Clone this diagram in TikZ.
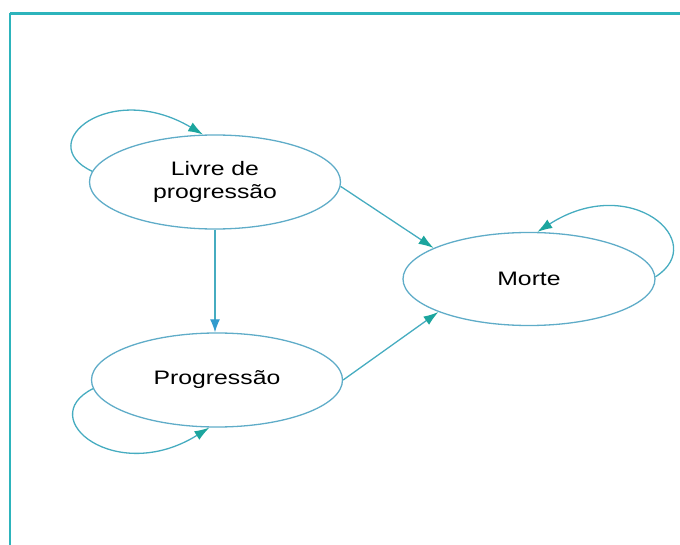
\documentclass[tikz,border=0pt]{standalone}
\usepackage{fontspec}
\usepackage{graphicx}
\setmainfont{Liberation Sans}
\usetikzlibrary{shapes.geometric,arrows.meta}

\definecolor{framecol}{RGB}{45,180,188}
\definecolor{statecol}{RGB}{95,172,200}
\definecolor{linkcol}{RGB}{70,172,192}
\definecolor{headcol}{RGB}{28,165,158}
\definecolor{headblue}{RGB}{50,155,205}

\tikzset{
  state/.style={ellipse, draw=statecol, line width=1.3pt, inner sep=0pt,
    minimum width=251pt, minimum height=94pt,
    font=\fontsize{19.5}{23}\selectfont, text=black},
  link/.style={draw=linkcol, line width=1.3pt,
    -{Latex[length=15pt,width=10pt,fill=headcol,color=headcol]}},
  linkdown/.style={link, -{Latex[length=13pt,width=10pt,fill=headblue,color=headblue]}},
}
\newcommand{\wide}[1]{\scalebox{1.27}[1]{#1}}

\begin{document}
\begin{tikzpicture}[x=1pt,y=-1pt]
  \useasboundingbox (0,0) rectangle (680,545);
  % panel edges
  \draw[framecol, line width=2.5pt] (9.5,13.5) -- (680,13.5);
  \draw[framecol, line width=2pt] (9.5,13.5) -- (9.5,545);

  % states
  \node[state] (L) at (215,182) {\wide{\begin{tabular}{@{}c@{}}Livre de\\progressão\end{tabular}}};
  \node[state] (P) at (217,380) {\wide{Progressão}};
  \node[state, minimum width=252pt, minimum height=93pt] (M) at (529,279) {\wide{Morte}};

  % transitions
  \draw[linkdown] (L.south) -- (L.south |- P.north);
  \draw[link] (L.358) -- (M.162);
  \draw[link] (P.east) -- (M.200);

  % self transitions
  \draw[link] (L.175) .. controls +(-60,-28) and +(-93,-55) .. (L.104);
  \draw[link] (P.184) .. controls +(-60,30) and +(-93,58) .. (P.261);
  \draw[link] (M.1) .. controls +(55,-35) and +(93,-60) .. (M.80);
\end{tikzpicture}
\end{document}
